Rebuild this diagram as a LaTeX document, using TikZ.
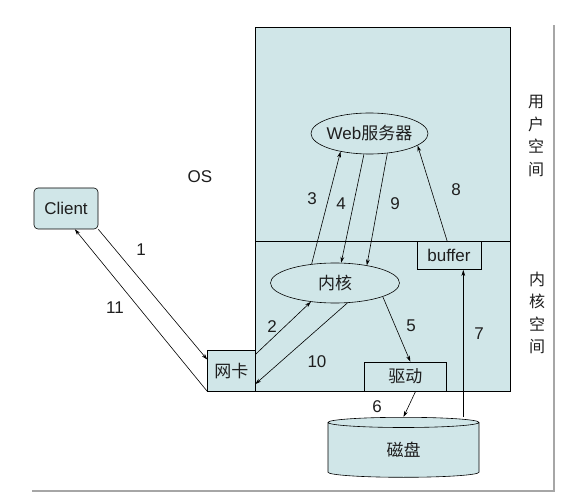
\documentclass[tikz,border=0pt]{standalone}
\usepackage{fontspec}
\setmainfont{Liberation Sans}
\newfontfamily\cjk{Noto Sans CJK SC}
\usetikzlibrary{positioning}
\usetikzlibrary{arrows.meta}
\usetikzlibrary{shapes.geometric}
\definecolor{panel}{HTML}{D0E6E8}
\definecolor{ink}{HTML}{1E1E1E}

\begin{document}
\begin{tikzpicture}[x=1pt,y=1pt,
  font=\fontsize{17}{20}\selectfont, text=ink, line width=0.6pt,
  box/.style={draw, fill=panel, rectangle, inner sep=0pt},
  blob/.style={draw, fill=panel, ellipse, inner sep=0pt},
  flow/.style={-{Stealth[length=6pt,width=3.8pt]}},
  num/.style={inner sep=0pt},
  side/.style={align=center, font=\cjk\fontsize{16}{22.5}\selectfont}]
  \useasboundingbox (0,0) rectangle (563,499);

  % frame
  \draw[line width=2pt, gray!70] (32,8.5) -- (554,8.5) -- (554,474);

  % user space / kernel space
  \draw[fill=panel] (255,108) rectangle (510,471.5);
  \draw (255,257.3) -- (510,257.3);
  \node[side] (user) at (536,363) {用\\户\\空\\间};
  \node[side] (kern) at (537,186) {内\\核\\空\\间};
  \node (os) at (200,322) {OS};

  % nodes
  \node[box, rounded corners=4pt, minimum width=64pt, minimum height=41pt] (client) at (66,290.5) {Client};
  \node[box, minimum width=47.5pt, minimum height=40.5pt] (nic) at (231.25,128.25) {\cjk 网卡};
  \node[box, minimum width=81.5pt, minimum height=29pt] (driver) at (405.25,122.5) {\cjk 驱动};
  \node[box, minimum width=64pt, minimum height=28pt] (buffer) at (449,243.3) {buffer};
  \node[blob, minimum width=117pt, minimum height=41pt, label=center:{Web\cjk 服务器}] (web) at (369.5,365.5) {};
  \node[blob, minimum width=129pt, minimum height=40pt, label=center:{\cjk 内核}] (kernel) at (335,216) {};
  \node[draw, fill=panel, cylinder, shape border rotate=90, aspect=0.3,
        minimum width=151pt, minimum height=60pt, inner sep=0pt] (disk) at (403.5,49) {\cjk 磁盘};

  % connectors
  \draw[flow] (client.south east) -- (nic.155);
  \draw[flow] (nic.south west) -- (client.-67);
  \draw[flow] (nic.34) -- (kernel.-142);
  \draw[flow] (kernel.-58) -- (nic.-29);
  \draw[flow] (kernel.141) -- (web.-148);
  \draw[flow] (web.-105) -- (kernel.73);
  \draw[flow] (web.-48) -- (kernel.29);
  \draw[flow] (kernel.-16) -- (driver.71);
  \draw[flow] (driver.-55) -- (disk.top);
  \draw[flow] (buffer.-45 |- disk.top) -- (buffer.-45);
  \draw[flow] (buffer.97) -- (web.-14);

  % step numbers
  \foreach \x/\y/\n in {141/249/1, 115/191/11, 272/172/2, 317/137/10, 411/173/5,
                        479/165/7, 377/92/6, 312/300/3, 341/295/4, 395/295/9, 456/309/8}
    \node[num] at (\x,\y) {\n};
\end{tikzpicture}
\end{document}
